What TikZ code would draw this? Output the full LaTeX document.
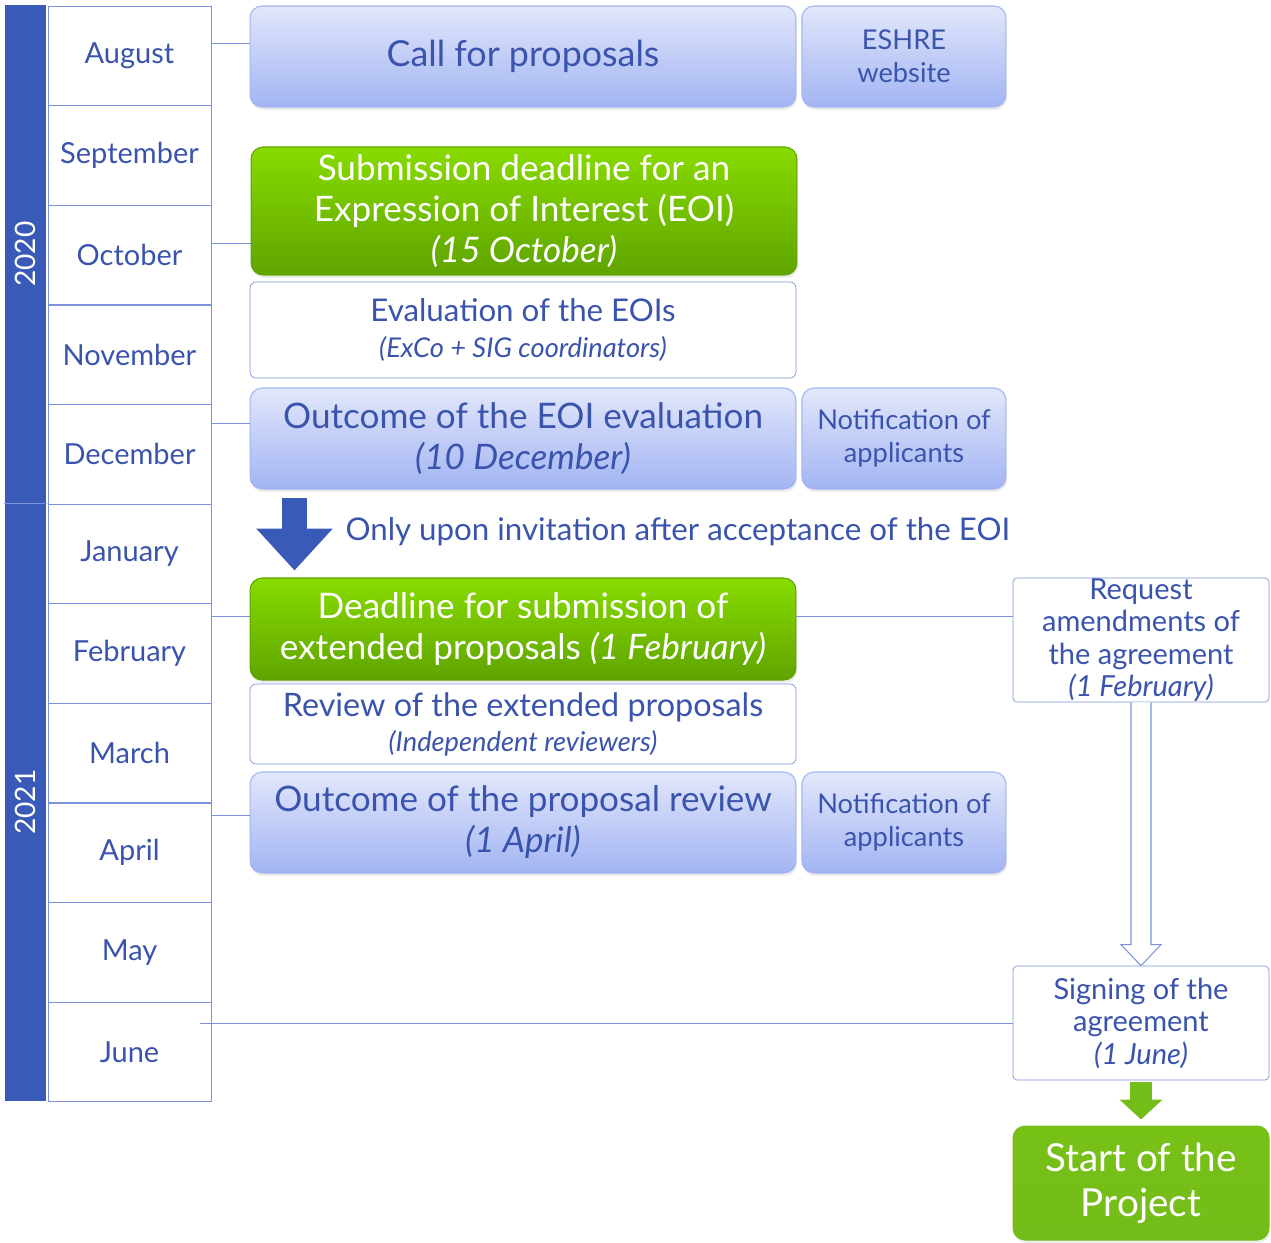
\documentclass[tikz,border=0pt]{standalone}
\usepackage{fontspec}
\setmainfont{Lato}
\usepackage{tikz}
\usetikzlibrary{arrows.meta,positioning,shadows}

\definecolor{yearblue}{HTML}{3A5AB7}
\definecolor{lineblue}{HTML}{7D92DA}
\definecolor{textblue}{HTML}{3A54AD}
\definecolor{pale}{HTML}{E2E7FB}
\definecolor{lavender}{HTML}{A2B4F3}
\definecolor{lime}{HTML}{88DB00}
\definecolor{grass}{HTML}{5FA400}
\definecolor{startgreen}{HTML}{74BC1A}

\begin{document}
\begin{tikzpicture}[x=0.02cm,y=-0.02cm,semithick]

\tikzstyle{year}=[fill=yearblue,text=white,rotate=90,minimum height=0.82cm,inner sep=0pt,font=\fontsize{16}{18}\selectfont]
\tikzstyle{month}=[draw=lineblue,thin,minimum width=3.26cm,minimum height=1.99cm,text=textblue,font=\fontsize{16.5}{18}\selectfont]
\tikzstyle{event}=[draw=lavender,rounded corners=0.24cm,top color=pale,bottom color=lavender,text=textblue,align=center,inner sep=0pt,drop shadow={opacity=0.15,shadow xshift=0.02cm,shadow yshift=-0.06cm}]
\tikzstyle{deadline}=[draw=grass,rounded corners=0.24cm,top color=lime,bottom color=grass,text=white,align=center,inner sep=0pt,drop shadow={opacity=0.15,shadow xshift=0.02cm,shadow yshift=-0.06cm}]
\tikzstyle{plain}=[draw=lineblue,thin,rounded corners=0.12cm,fill=white,text=textblue,align=center,inner sep=0pt]
\tikzstyle{link}=[draw=lineblue,thin]

\useasboundingbox (0,0) rectangle (1271,1242);

% years and months
\node[year,minimum width=9.96cm]  (y2020) at (25.5,254) {2020};
\node[year,minimum width=11.96cm] (y2021) at (25.5,802) {2021};
\draw[lineblue] (y2020.north west) -- (y2020.south west);

\foreach \mname [count=\i] in {August,September,October,November,December,January,February,March,April,May,June}
  \node[month] (m\i) at (129.5,{99.6*\i-43.8}) {\mname};

% first stage
\node[event,minimum width=10.92cm,minimum height=2.02cm,font=\fontsize{20.4}{23}\selectfont] (call) at (523,56.5) {Call for proposals};
\node[event,minimum width=4.08cm,minimum height=2.02cm,font=\fontsize{15.5}{18.6}\selectfont,right=0.1cm of call] (eshre) {ESHRE\\website};
\node[deadline,minimum width=10.92cm,minimum height=2.56cm,font=\fontsize{20}{23.3}\selectfont] (submit) at (524,211) {Submission deadline for an\\Expression of Interest (EOI)\\\textit{(15 October)}};
\node[plain,minimum width=10.92cm,minimum height=1.92cm,font=\fontsize{17.8}{20}\selectfont] (evalu) at (523,330) {Evaluation of the EOIs\\{\fontsize{15.5}{17}\selectfont\itshape (ExCo + SIG coordinators)}};
\node[event,minimum width=10.92cm,minimum height=2.02cm,font=\fontsize{20}{23.3}\selectfont] (outeoi) at (523,438.5) {Outcome of the EOI evaluation\\\textit{(10 December)}};
\node[event,minimum width=4.08cm,minimum height=2.02cm,font=\fontsize{15.5}{18.8}\selectfont,right=0.1cm of outeoi] (notif1) {Notification of\\applicants};

\node[anchor=west,text=textblue,inner sep=0pt,font=\fontsize{17.8}{21}\selectfont] (invite) at (345,532) {Only upon invitation after acceptance of the EOI};

% second stage
\node[deadline,minimum width=10.92cm,minimum height=2.04cm,font=\fontsize{20}{23.8}\selectfont] (dead) at (523,629) {Deadline for submission of\\extended proposals \textit{(1 February)}};
\node[plain,minimum width=10.92cm,minimum height=1.6cm,font=\fontsize{18.4}{20}\selectfont] (review) at (523,724) {Review of the extended proposals\\{\fontsize{15.5}{17}\selectfont\itshape (Independent reviewers)}};
\node[event,minimum width=10.92cm,minimum height=2.02cm,font=\fontsize{20}{23.3}\selectfont] (outrev) at (523,822.5) {Outcome of the proposal review\\\textit{(1 April)}};
\node[event,minimum width=4.08cm,minimum height=2.02cm,font=\fontsize{15.5}{18.8}\selectfont,right=0.1cm of outrev] (notif2) {Notification of\\applicants};

% agreement
\node[plain,rounded corners=0.08cm,minimum width=5.12cm,minimum height=2.48cm,font=\fontsize{16.5}{18.5}\selectfont] (request) at (1141,640) {Request\\amendments of\\the agreement\\\textit{(1 February)}};
\node[plain,rounded corners=0.08cm,minimum width=5.12cm,minimum height=2.28cm,font=\fontsize{16.5}{18.5}\selectfont] (sign) at (1141,1023) {Signing of the\\agreement\\\textit{(1 June)}};
\node[deadline,draw=startgreen,top color=startgreen!85!lime,bottom color=startgreen,minimum width=5.12cm,minimum height=2.28cm,font=\fontsize{22}{25.6}\selectfont] (start) at (1141,1183) {Start of the\\Project};

% connectors
\coordinate (c1) at ([yshift=0.27cm]call.west);
\coordinate (c2) at ([yshift=-0.64cm]submit.west);
\coordinate (c3) at ([yshift=0.31cm]outeoi.west);
\coordinate (c4) at ([yshift=0.26cm]dead.west);
\coordinate (c5) at ([yshift=0.15cm]outrev.west);
\coordinate (c6) at (sign.west -| m11.east);
\draw[link] (c1) -- (c1 -| m1.east);
\draw[link] (c2) -- (c2 -| m3.east);
\draw[link] (c3) -- (c3 -| m5.east);
\draw[link] (c4) -- (c4 -| m7.east);
\draw[link] (c4 -| dead.east) -- (c4 -| request.west);
\draw[link] (c5) -- (c5 -| m9.east);
\draw[link] (sign.west) -- ([xshift=-0.22cm]c6);

% arrows
\draw[-{Triangle[length=0.84cm,width=1.48cm]},line width=0.5cm,yearblue]
  ([xshift=0.9cm,yshift=-0.16cm]outeoi.south west) -- ([xshift=0.9cm,yshift=0.14cm]dead.north west);
\draw[lineblue,fill=white] ([xshift=-0.2cm]request.south) -- ([xshift=-0.2cm,yshift=0.42cm]sign.north)
  -- ([xshift=-0.4cm,yshift=0.42cm]sign.north) -- (sign.north) -- ([xshift=0.4cm,yshift=0.42cm]sign.north)
  -- ([xshift=0.2cm,yshift=0.42cm]sign.north) -- ([xshift=0.2cm]request.south);
\draw[-{Triangle[length=0.4cm,width=0.84cm]},line width=0.44cm,startgreen]
  ([yshift=-0.04cm]sign.south) -- ([yshift=0.12cm]start.north);
\end{tikzpicture}
\end{document}
